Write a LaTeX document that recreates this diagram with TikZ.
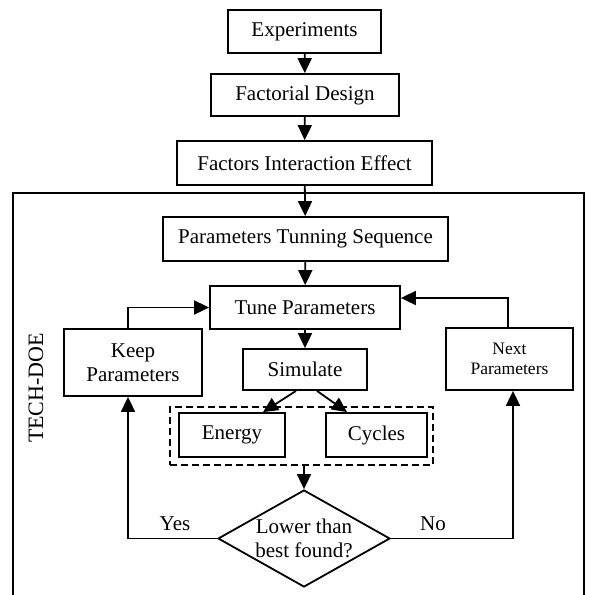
\documentclass[tikz,border=0pt]{standalone}
\usepackage{fontspec}
\setmainfont{Liberation Serif}
\usetikzlibrary{arrows.meta,shapes.geometric}
\begin{document}
\begin{tikzpicture}[x=1pt,y=-1pt,
  every node/.style={font=\fontsize{21}{24}\selectfont},
  box/.style={draw,line width=1.8pt,inner sep=0pt,align=center},
  arr/.style={line width=1.8pt,-{Triangle[length=15pt,width=14pt]}},
  ln/.style={line width=1.8pt}]
\useasboundingbox (0,0) rectangle (591,595);
% frame
\coordinate (fbl) at (13,597);
\coordinate (fbr) at (584,597);
\draw[ln] (fbl) -- (13,193) -- (584,193) -- (fbr);
\node[rotate=90,font=\fontsize{22}{24}\selectfont] (lab) at (36,388) {TECH-DOE};
% nodes
\node[box,minimum width=153pt,minimum height=43pt] (exp) at (304.5,31.5) {Experiments};
\node[box,minimum width=188pt,minimum height=42pt] (fact) at (305,95) {Factorial Design};
\node[box,minimum width=255pt,minimum height=44pt] (fie) at (304.5,163) {Factors Interaction Effect};
\node[box,minimum width=285pt,minimum height=44pt] (pts) at (305.5,239) {Parameters Tunning Sequence};
\node[box,minimum width=190pt,minimum height=43pt] (tune) at (305,307.5) {Tune Parameters};
\node[box,minimum width=138pt,minimum height=67pt] (keep) at (133,362.5) {Keep\\Parameters};
\node[box,minimum width=124pt,minimum height=41pt] (sim) at (305,369.5) {Simulate};
\node[box,minimum width=127pt,minimum height=62pt,font=\fontsize{17.5}{20}\selectfont] (next) at (509.5,359) {Next\\Parameters};
\node[draw,line width=1.8pt,dash pattern=on 7pt off 4pt,minimum width=263pt,minimum height=58pt,inner sep=0pt] (grp) at (301.5,436) {};
\node[box,minimum width=106pt,minimum height=44pt] (energy) at (232,435) {Energy};
\node[box,minimum width=101pt,minimum height=44pt] (cycles) at (376.5,435) {Cycles};
\node[diamond,draw,line width=1.8pt,minimum width=172pt,minimum height=97pt,inner sep=-12pt,align=center] (dec) at (304,538.5) {Lower than\\best found?};
\node (yes) at (175,524) {Yes};
\node (no) at (433,524) {No};
% connectors
\draw[arr] (exp) -- (fact);
\draw[arr] (fact) -- (fie);
\draw[arr] (fie) -- (pts);
\draw[arr] (pts) -- (tune);
\draw[arr] (tune) -- (sim);
\draw[arr] ([xshift=-9pt]sim.south) -- ([xshift=31pt]energy.north);
\draw[arr] ([xshift=12pt]sim.south) -- ([xshift=-29.5pt]cycles.north);
\draw[arr] (grp.south -| dec.north) -- (dec.north);
\draw[arr] (dec.west) -| ([xshift=-5pt]keep.south);
\draw[arr] (dec.east) -| ([xshift=3.5pt]next.south);
\draw[arr] ([xshift=-5pt]keep.north) |- (tune.west);
\draw[arr] ([xshift=-1.5pt]next.north) |- ([yshift=9.5pt]tune.east);
\end{tikzpicture}
\end{document}
